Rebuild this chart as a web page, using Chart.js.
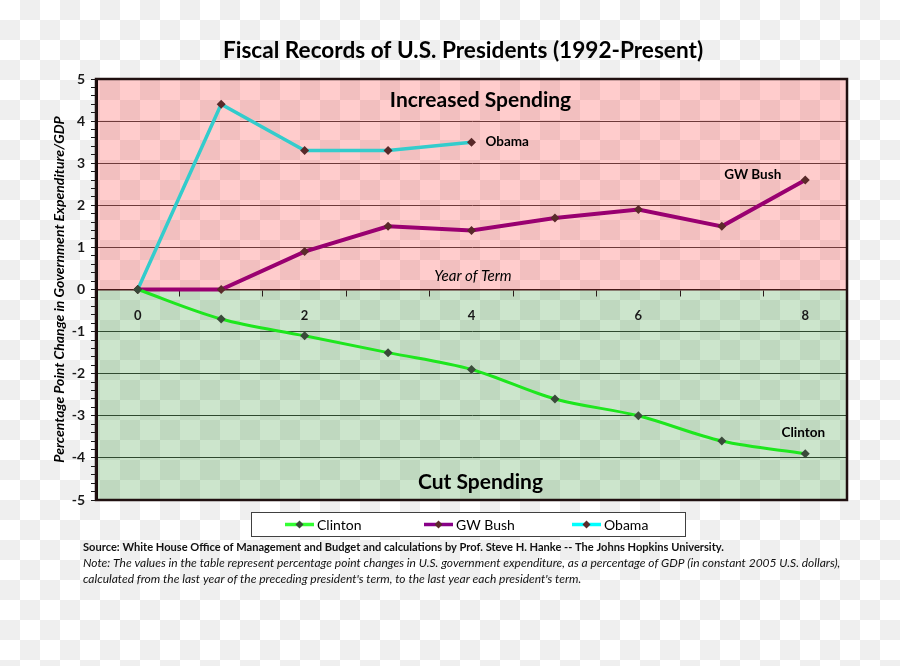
<!DOCTYPE html>
<html>
<head>
<meta charset="utf-8">
<title>Fiscal Records of U.S. Presidents</title>
<script src="https://cdn.jsdelivr.net/npm/chart.js@4.4.1/dist/chart.umd.min.js"></script>
<style>
  html, body { margin: 0; padding: 0; }
  body {
    width: 900px; height: 666px; overflow: hidden;
    background: repeating-conic-gradient(#efefef 0 25%, #ffffff 0 50%) 0 0 / 40px 40px;
  }
  #wrap { position: absolute; left: 0; top: 0; width: 900px; height: 666px; }
</style>
</head>
<body>
<div id="wrap"><canvas id="chart-fiscal" width="900" height="666"></canvas></div>
<script>
/* ── Data ───────────────────────────────────────────────── */
const years   = ['0', '1', '2', '3', '4', '5', '6', '7', '8'];
const clinton = [0, -0.7, -1.1, -1.5, -1.9, -2.6, -3.0, -3.6, -3.9];
const gwBush  = [0, 0, 0.9, 1.5, 1.4, 1.7, 1.9, 1.5, 2.6];
const obama   = [0, 4.4, 3.3, 3.3, 3.5];
const yMin = -5, yMax = 5;
const xLabelYears = ['0', '2', '4', '6', '8'];

const FONT = 'Lato, "Open Sans", sans-serif';
const sourceLine = 'Source: White House Office of Management and Budget and calculations by Prof. Steve H. Hanke -- The Johns Hopkins University.';
const noteLines = [
  'Note: The values in the table represent percentage point changes in U.S. government expenditure, as a percentage of GDP (in constant 2005 U.S. dollars),',
  'calculated from the last year of the preceding president\'s term, to the last year each president\'s term.'
];

const isWhole = v => Math.abs(v - Math.round(v)) < 1e-6;

/* ── Plugins ────────────────────────────────────────────── */
const zonesPlugin = {
  id: 'zones',
  beforeDraw(chart) {
    const { ctx, chartArea: a, scales } = chart;
    const y0 = scales.y.getPixelForValue(0);
    ctx.save();
    ctx.fillStyle = 'rgba(255,0,0,0.2)';
    ctx.fillRect(a.left, a.top, a.right - a.left, y0 - a.top);
    ctx.fillStyle = 'rgba(0,125,0,0.2)';
    ctx.fillRect(a.left, y0, a.right - a.left, a.bottom - y0);
    ctx.restore();
  }
};

const textPlugin = {
  id: 'texts',
  afterDatasetsDraw(chart) {
    const { ctx, chartArea: a, scales: { x, y } } = chart;
    const cx = (a.left + a.right) / 2 + 9;
    ctx.save();
    ctx.fillStyle = '#000';
    ctx.textAlign = 'center';
    ctx.textBaseline = 'alphabetic';

    ctx.font = `bold 21px ${FONT}`;
    ctx.fillText('Increased Spending', cx, 107);
    ctx.fillText('Cut Spending', cx, 489);

    ctx.font = `italic 15px ${FONT}`;
    ctx.fillText('Year of Term', 473, 281);

    // series labels near their last points
    ctx.font = `bold 13.5px ${FONT}`;
    ctx.textAlign = 'left';
    ctx.fillText('Obama', x.getPixelForValue(obama.length - 1) + 14, y.getPixelForValue(obama[obama.length - 1]) + 4);
    ctx.textAlign = 'right';
    ctx.fillText('GW Bush', x.getPixelForValue(gwBush.length - 1) - 24, y.getPixelForValue(gwBush[gwBush.length - 1]) - 1);
    ctx.textAlign = 'center';
    ctx.fillText('Clinton', x.getPixelForValue(clinton.length - 1) - 2, y.getPixelForValue(clinton[clinton.length - 1]) - 17);

    // plot frame
    ctx.strokeStyle = '#201010';
    ctx.lineWidth = 2.5;
    ctx.strokeRect(a.left, a.top, a.right - a.left, a.bottom - a.top);
    ctx.restore();
  },
  afterDraw(chart) {
    const { ctx } = chart;
    ctx.save();

    // title
    ctx.fillStyle = '#000';
    ctx.textAlign = 'center';
    ctx.font = `bold 22.6px ${FONT}`;
    ctx.fillText('Fiscal Records of U.S. Presidents (1992-Present)', 463, 58);

    // legend box
    ctx.fillStyle = '#fff';
    ctx.fillRect(251.5, 512.5, 434, 24);
    ctx.strokeStyle = '#404040';
    ctx.lineWidth = 1;
    ctx.strokeRect(251.5, 512.5, 434, 24);

    const starts = [285, 424, 572];
    chart.data.datasets.forEach((ds, i) => {
      const x0 = starts[i], yy = 524.5;
      ctx.strokeStyle = ds.legendColor;
      ctx.lineWidth = 3.5;
      ctx.beginPath();
      ctx.moveTo(x0, yy);
      ctx.lineTo(x0 + 29, yy);
      ctx.stroke();
      ctx.fillStyle = ds.pointBackgroundColor;
      ctx.beginPath();
      ctx.moveTo(x0 + 14.5, yy - 4);
      ctx.lineTo(x0 + 18.5, yy);
      ctx.lineTo(x0 + 14.5, yy + 4);
      ctx.lineTo(x0 + 10.5, yy);
      ctx.closePath();
      ctx.fill();
      ctx.fillStyle = '#000';
      ctx.textAlign = 'left';
      ctx.font = `14px ${FONT}`;
      ctx.fillText(ds.label, x0 + 32, 529.5);
    });

    // source and notes
    ctx.textAlign = 'left';
    ctx.fillStyle = '#111';
    ctx.font = `bold 11.1px ${FONT}`;
    ctx.fillText(sourceLine, 83, 551);
    ctx.font = `italic 12px ${FONT}`;
    noteLines.forEach((ln, i) => ctx.fillText(ln, 83, 567 + i * 16));
    ctx.restore();
  }
};

/* ── Chart ──────────────────────────────────────────────── */
const canvas = document.getElementById('chart-fiscal');
new Chart(canvas, {
  type: 'line',
  data: {
    labels: years,
    datasets: [
      {
        label: 'Clinton', data: clinton,
        borderColor: '#1ee61e', legendColor: '#33ff33', borderWidth: 3,
        pointStyle: 'rectRot', pointRadius: 4.5,
        pointBackgroundColor: '#3a4a3a', pointBorderColor: '#3a4a3a', pointBorderWidth: 0,
        cubicInterpolationMode: 'monotone'
      },
      {
        label: 'GW Bush', data: gwBush,
        borderColor: '#990070', legendColor: '#880088', borderWidth: 4,
        pointStyle: 'rectRot', pointRadius: 4.5,
        pointBackgroundColor: '#5a2a2a', pointBorderColor: '#5a2a2a', pointBorderWidth: 0,
        tension: 0
      },
      {
        label: 'Obama', data: obama,
        borderColor: '#33cccc', legendColor: '#00ffff', borderWidth: 3.5,
        pointStyle: 'rectRot', pointRadius: 4.5,
        pointBackgroundColor: '#5a2a2a', pointBorderColor: '#5a2a2a', pointBorderWidth: 0,
        tension: 0
      }
    ]
  },
  options: {
    responsive: false,
    animation: false,
    layout: { padding: { left: 0, top: 79, right: 53, bottom: 166 } },
    plugins: {
      legend: { display: false },
      tooltip: { enabled: false },
      title: { display: false }
    },
    scales: {
      x: {
        type: 'category',
        position: { y: 0 },
        offset: true,
        afterFit: s => { s.height = 0; },
        grid: {
          offset: true, drawOnChartArea: false,
          tickLength: 6, tickColor: '#2a1a1a', tickWidth: 1
        },
        border: { display: true, color: '#4a1a1a', width: 1.5 },
        ticks: {
          autoSkip: false, maxRotation: 0, padding: 13,
          color: '#1a1a1a', font: { family: FONT, size: 13, weight: 'bold' },
          callback(v) { const l = this.getLabelForValue(v); return xLabelYears.includes(l) ? l : ''; }
        }
      },
      y: {
        min: yMin, max: yMax,
        afterFit: s => { s.width = 96; },
        grid: {
          color: c => {
            const v = c.tick.value;
            if (!isWhole(v)) return 'rgba(0,0,0,0)';
            return v > 0 ? '#6e3a3a' : '#304a30';
          },
          tickColor: '#1a1a1a', tickLength: 5, lineWidth: 1
        },
        border: { display: true, color: '#1a0a0a', width: 3 },
        ticks: {
          stepSize: 0.2, autoSkip: false, padding: 6,
          color: '#1a1a1a', font: { family: FONT, size: 14, weight: 'bold' },
          callback: v => isWhole(v) ? String(Math.round(v)) : ''
        },
        title: {
          display: true,
          text: 'Percentage Point Change in Government Expenditure/GDP',
          color: '#000',
          font: { family: FONT, size: 14, weight: 'bold', style: 'italic' },
          padding: { top: 51, bottom: 0 }
        }
      }
    }
  },
  plugins: [zonesPlugin, textPlugin]
});
</script>
</body>
</html>
